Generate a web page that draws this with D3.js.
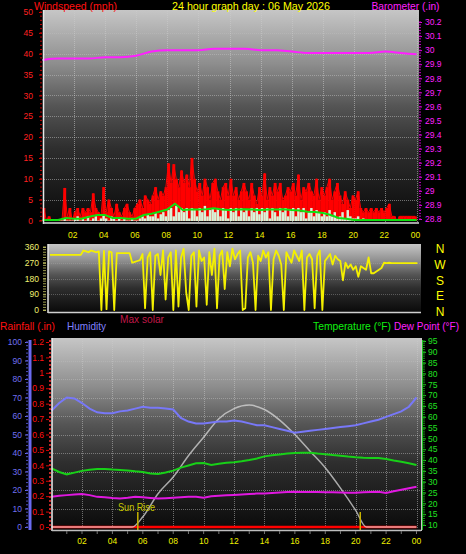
<!DOCTYPE html>
<html><head><meta charset="utf-8">
<script src="https://cdn.jsdelivr.net/npm/d3@7"></script>
<style>html,body{margin:0;padding:0;background:#000;overflow:hidden}svg{display:block}text{font-family:"Liberation Sans",Arial,sans-serif}</style>
</head><body><svg id="c" width="466" height="554"></svg>
<script>
// ---------- data ----------
const tickHours = [2,4,6,8,10,12,14,16,18,20,22,24];
const tickLabels = ["02","04","06","08","10","12","14","16","18","20","22","00"];

// wind gust, 10-minute samples (mph)
const windGust = [
 3,0,1,0,0,0, 0,0,7.8,1,3,0, 2,3,1,3,2,3, 2,6.5,3,2,1,8, 2,5,3,1,4,2, 1,3,4,2,1,3,
 4,5,3,6,5,4, 6,8,5,7,6,8, 13.7,9,13.5,10,8,12, 9,11,8,15,10,7, 9,6,10,8,5,9, 10,7,5,8,9,6,
 10,6,8,5,7,9, 7,5,9,6,4,8, 6,11.3,5,8,6,9, 7,9,5,6,8,7, 9,6,11,5,8,7, 9,7,6,10,5,8,
 6,8,10,5,7,9, 6,4,7,5,3,6, 5,7,3,2,3,2, 3,2,3,2,3,2, 3,4,1,1,0,1, 1,1,1,1,1,1];
// wind speed, 10-minute samples (mph)
const windSpeed = [
 0,0,0,0,0,0, 0,0,0.5,0,0,0, 0.5,1,0,0.5,0,1, 0,0.5,1,0,0.5,1.5, 0.5,0,1,0.5,0,0.5, 0,0.5,0,0,0.5,0,
 0,0.5,1,0.5,1.5,1, 1,2,0.5,1.5,2,1, 2.5,3,1,3.5,2,3, 2,3,0.5,3,2.5,1, 3,2,3.5,1,2.5,3, 2,3,1,3,2.5,0.5,
 3,2,3,1,3,2, 2.5,1,3,2,3,1.5, 3,2,3,0.5,3,2, 1,3,2,3,1,2.5, 3,1,3,2,3,0.5, 2,3,1,2.5,2,1,
 2,1,2.5,1,2,0.5, 1,2,0.5,2.5,1,0.5, 0.5,1,0,0.5,0,0, 0,0,0,0,0,0, 0,0,0,0,0,0, 0,0,0,0,0,0];
// average wind, half-hourly (mph)
const windAvg = [0,0,0,0.5,0.3,0.3,0.8,1.2,1.2,0.5,0.5,0.3,0.3,1.2,1.5,2,2.5,3.9,2.4,2.5,2.5,2.6,2.8,2.5,
 2.4,2.5,2.6,2.5,2.4,2.5,2.5,2.6,2.4,2.3,2,1.9,1.7,1.2,0.5,0.3,0,0,0,0,0,0,0,0,0];
// barometer, hourly (in)
const baro = [29.93,29.94,29.94,29.94,29.95,29.95,29.96,29.99,30.00,30.00,30.00,30.01,30.01,30.01,
 30.00,30.00,29.99,29.98,29.98,29.98,29.98,29.98,29.99,29.98,29.97];
// wind direction, 10-minute samples (deg)
const windDir = [
 315,315,315,315,315,315, 315,315,315,315,315,315, 315,340,335,330,340,335,
 330,335,0,338,5,335, 330,0,325,325,325,325, 325,325,270,275,280,285,
 320,10,300,330,0,310, 320,200,340,60,300,330, 0,340,20,300,350,100,
 0,310,330,20,340,280, 300,30,330,200,350,10, 310,340,120,330,250,350,
 290,320,340,0,10,300, 330,270,0,310,280,340, 300,330,0,290,340,310,
 260,0,330,300,270,340, 310,280,340,0,300,320, 290,10,310,340,0,280,
 300,320,260,310,290,280, 170,270,240,260,230,250, 190,250,240,230,300,210,
 210,220,230,240,270,268, 270,268,268,268,268,268, 268,268,268,268,268,268];
// humidity, half-hourly (%)
const humidity = [63,67,70,69.5,67,64,62,61.5,61.5,62.5,63,64,65,64.5,64.5,64,63.5,59,57,56,56,56.5,57,57,
 57.5,57,56,55,55,54,53,52,51,51.5,52,52.5,53,53.5,54,54.5,55,56,57,58,59.5,61,62.5,65,70];
// temperature, half-hourly (F)
const temperature = [36.2,34.5,33.4,34.2,35,35.5,35.9,35.9,35.6,35.4,35.2,34.8,34.5,33.8,33.6,34.3,35.1,36.5,
 37.5,38.5,38.6,37.7,38.3,38.8,39,39.4,40,40.7,41.7,42.2,42.6,43,43.3,43.4,43.4,43,42.7,42.3,42,41.6,
 41.3,41.1,41,40.9,40.5,39.8,39.2,38.5,37.7];
// dew point, half-hourly (F)
const dewPoint = [23.1,23.5,23.8,24.1,24.3,23.8,23,22.8,22.5,22.3,22.6,23,22.8,22.5,22.2,22.4,22.6,22.8,
 23,23,22.6,23.3,23.5,23.7,23.9,24.1,24.3,24.5,24.6,24.8,25,25.2,25.4,25.3,25.2,25.2,25.1,25.1,25,24.9,
 24.9,25.1,25.3,25.4,24.8,25.6,26.3,27,27.7];
// max solar (W/m2)
const solarHours = [0,5,5.3,6,7,8,9,10,11,12,13,14,15,16,17,18,19,20,20.7,21,24];
const solarValues = [0,0,0,55,180,270,385,485,585,640,659,635,578,500,410,320,210,90,0,0,0];
// rainfall (in)
const rainHours = [0,24];
const rainValues = [0,0];
const sunRise = 5.67, sunSet = 20.3;

// ---------- drawing ----------
const svg = d3.select("#c");
svg.append("rect").attr("width",466).attr("height",554).attr("fill","#000");
const defs = svg.append("defs");
const g = defs.append("linearGradient").attr("id","bg").attr("x1",0).attr("x2",0).attr("y1",0).attr("y2",1);
[[0,"#c6c6c6"],[0.25,"#8e8e8e"],[0.45,"#555"],[0.65,"#2e2e2e"],[1,"#0a0a0a"]].forEach(s=>g.append("stop").attr("offset",s[0]).attr("stop-color",s[1]));

const half = d3.range(49).map(i=>i/2);
const tenMin = d3.range(144).map(i=>i/6);

function txt(x,y,s,fill,size,anchor,len){
  const t = svg.append("text").attr("x",x).attr("y",y).text(s).attr("fill",fill)
    .attr("font-size",size).attr("text-anchor",anchor||"start");
  if(len) t.attr("textLength",len).attr("lengthAdjust","spacingAndGlyphs");
  return t;
}

// ===== TOP PANEL =====
const xW = d3.scaleLinear().domain([0,24]).range([42.5,416.5]);
const yW = d3.scaleLinear().domain([0,50]).range([220.5,12]);
const yB = d3.scaleLinear().domain([28.8,30.2]).range([219,22]);
svg.append("rect").attr("x",43).attr("y",10).attr("width",376).attr("height",213).attr("fill","url(#bg)");
// grid
svg.append("g").selectAll("line").data(d3.range(5,50,5)).join("line")
  .attr("x1",44).attr("x2",418).attr("y1",d=>Math.round(yW(d))+0.5).attr("y2",d=>Math.round(yW(d))+0.5)
  .attr("stroke","#bbb").attr("stroke-opacity",0.55).attr("stroke-dasharray","1,1");
svg.append("g").selectAll("line").data(tickHours).join("line")
  .attr("x1",d=>Math.round(xW(d))+0.5).attr("x2",d=>Math.round(xW(d))+0.5).attr("y1",11).attr("y2",222)
  .attr("stroke","#ccc").attr("stroke-opacity",0.55).attr("stroke-dasharray","1,1");
// gust bars
const bw = (xW(1)-xW(0))/6;
svg.append("g").selectAll("rect").data(windGust).join("rect")
  .attr("x",(d,i)=>xW(tenMin[i])).attr("width",bw+0.3)
  .attr("y",d=>yW(d)).attr("height",d=>yW(0)-yW(d)+0.5).attr("fill","#ff0000");
svg.append("path").datum(windGust).attr("fill","none").attr("stroke","#ff0000").attr("stroke-width",1)
  .attr("d",d3.line().x((d,i)=>xW(tenMin[i])+bw/2).y(d=>yW(d)));
// speed bars
svg.append("g").selectAll("rect").data(windSpeed).join("rect")
  .attr("x",(d,i)=>xW(tenMin[i])+bw*0.05).attr("width",bw*0.95)
  .attr("y",d=>yW(d)).attr("height",d=>yW(0)-yW(d)+0.5).attr("fill","#d8f4d8");
// average line
svg.append("path").datum(windAvg).attr("fill","none").attr("stroke","#10e010").attr("stroke-width",2)
  .attr("d",d3.line().x((d,i)=>xW(half[i])).y(d=>yW(d)-0.5));
// barometer
svg.append("path").datum(baro).attr("fill","none").attr("stroke","#ff20ff").attr("stroke-width",2)
  .attr("d",d3.line().x((d,i)=>xW(i)).y(d=>yB(d)).curve(d3.curveMonotoneX));
// borders
svg.append("line").attr("x1",43.5).attr("x2",43.5).attr("y1",10).attr("y2",224).attr("stroke","#e8e8e8").attr("stroke-width",1.5);
svg.append("line").attr("x1",43).attr("x2",419).attr("y1",223).attr("y2",223).attr("stroke","#d8d8d8").attr("stroke-width",1.5);
// left wind axis
const axW = svg.append("g").attr("transform","translate(42,0)")
  .call(d3.axisLeft(yW).tickValues(d3.range(0,51,5)).tickSize(3).tickPadding(6));
axW.select(".domain").remove();
axW.selectAll("line").attr("stroke","#e00000");
axW.selectAll("text").attr("fill","#ff2020").attr("font-size",8.5).attr("font-family","Liberation Sans, Arial");
svg.append("g").selectAll("line").data(d3.range(0,51,1)).join("line")
  .attr("x1",40).attr("x2",42).attr("y1",d=>yW(d)).attr("y2",d=>yW(d)).attr("stroke","#c00000");
// right baro axis
const axB = svg.append("g").attr("transform","translate(419,0)")
  .call(d3.axisRight(yB).tickValues(d3.range(0,15).map(i=>28.8+i*0.1)).tickFormat(d=>String(+d.toFixed(1))).tickSize(3).tickPadding(3));
axB.select(".domain").remove();
axB.selectAll("line").attr("stroke","#e000e0");
axB.selectAll("text").attr("fill","#ff20ff").attr("font-size",8.5).attr("font-family","Liberation Sans, Arial");
svg.append("g").selectAll("line").data(d3.range(0,71).map(i=>28.8+i*0.02)).join("line")
  .attr("x1",419).attr("x2",421).attr("y1",d=>yB(d)).attr("y2",d=>yB(d)).attr("stroke","#c000c0");
// x labels
svg.append("g").selectAll("text").data(tickHours).join("text")
  .attr("x",d=>xW(d)-1).attr("y",238).attr("text-anchor","middle").attr("fill","#f0f000").attr("font-size",8.5)
  .text((d,i)=>tickLabels[i]);
// titles
txt(34,10,"Windspeed (mph)","#ff1010",11.5,"start",83);
txt(172,9.5,"24 hour graph day : 06 May 2026","#ffff00",11.5,"start",158);
txt(371.5,10,"Barometer (.in)","#ff20ff",11.5,"start",68);

// ===== MIDDLE PANEL =====
const xD = d3.scaleLinear().domain([0,24]).range([50,420]);
const yD = d3.scaleLinear().domain([0,360]).range([310,247]);
svg.append("rect").attr("x",48).attr("y",244).attr("width",373).attr("height",68).attr("fill","url(#bg)");
svg.append("g").selectAll("line").data([90,180,270]).join("line")
  .attr("x1",49).attr("x2",420).attr("y1",d=>Math.round(yD(d))+0.5).attr("y2",d=>Math.round(yD(d))+0.5)
  .attr("stroke","#aaa").attr("stroke-opacity",0.4).attr("stroke-dasharray","1,1");
svg.append("path").datum(windDir).attr("fill","none").attr("stroke","#f4f000").attr("stroke-width",1.8)
  .attr("stroke-linejoin","round").attr("d",d3.line().x((d,i)=>xD(tenMin[i])).y(d=>yD(d)));
svg.append("line").attr("x1",48).attr("x2",48).attr("y1",244).attr("y2",313).attr("stroke","#e8e8e8").attr("stroke-width",1.5);
svg.append("line").attr("x1",48).attr("x2",421).attr("y1",312.5).attr("y2",312.5).attr("stroke","#cfcfcf").attr("stroke-width",1.5);
const axD = svg.append("g").attr("transform","translate(46,0)")
  .call(d3.axisLeft(yD).tickValues([0,90,180,270,360]).tickSize(3).tickPadding(4));
axD.select(".domain").remove();
axD.selectAll("line").attr("stroke","#c8c860");
axD.selectAll("text").attr("fill","#f0f070").attr("font-size",8.5).attr("font-family","Liberation Sans, Arial");
svg.append("g").selectAll("line").data(d3.range(0,361,15)).join("line")
  .attr("x1",43).attr("x2",46).attr("y1",d=>yD(d)).attr("y2",d=>yD(d)).attr("stroke","#a0a050");
const compass = ["N","W","S","E","N"];
svg.append("g").selectAll("text").data([360,270,180,90,0]).join("text")
  .attr("x",440).attr("y",d=>yD(d)+6).attr("text-anchor","middle").attr("fill","#ffff00").attr("font-size",12)
  .text((d,i)=>compass[i]);

// ===== BOTTOM PANEL =====
const xT = d3.scaleLinear().domain([0,24]).range([51.6,416.5]);
const yH = d3.scaleLinear().domain([0,100]).range([527,342]);
const yR = d3.scaleLinear().domain([0,1.2]).range([527,342]);
const yT = d3.scaleLinear().domain([10,95]).range([525,341]);
const yS = d3.scaleLinear().domain([0,800]).range([527,379]);
svg.append("rect").attr("x",52).attr("y",338).attr("width",369).attr("height",192).attr("fill","url(#bg)");
svg.append("g").selectAll("line").data(d3.range(10,100,10)).join("line")
  .attr("x1",53).attr("x2",420).attr("y1",d=>Math.round(yH(d))+0.5).attr("y2",d=>Math.round(yH(d))+0.5)
  .attr("stroke","#bbb").attr("stroke-opacity",0.5).attr("stroke-dasharray","1,1");
svg.append("g").selectAll("line").data(tickHours).join("line")
  .attr("x1",d=>Math.round(xT(d))+0.5).attr("x2",d=>Math.round(xT(d))+0.5).attr("y1",339).attr("y2",529)
  .attr("stroke","#ccc").attr("stroke-opacity",0.5).attr("stroke-dasharray","1,1");
// rain
svg.append("path").datum(rainValues).attr("fill","none").attr("stroke","#ff0000").attr("stroke-width",2.5)
  .attr("d",d3.line().x((d,i)=>xT(rainHours[i])).y(d=>yR(d)));
// solar
svg.append("path").datum(solarValues).attr("fill","none").attr("stroke","#d8d8d8").attr("stroke-width",1.5).attr("stroke-opacity",0.75)
  .attr("d",d3.line().x((d,i)=>xT(solarHours[i])).y(d=>yS(d)).curve(d3.curveMonotoneX));
// humidity, temp, dew
svg.append("path").datum(humidity).attr("fill","none").attr("stroke","#7878f8").attr("stroke-width",2)
  .attr("d",d3.line().x((d,i)=>xT(half[i])).y(d=>yH(d)));
svg.append("path").datum(temperature).attr("fill","none").attr("stroke","#18d018").attr("stroke-width",2)
  .attr("d",d3.line().x((d,i)=>xT(half[i])).y(d=>yT(d)));
svg.append("path").datum(dewPoint).attr("fill","none").attr("stroke","#e018e0").attr("stroke-width",2)
  .attr("d",d3.line().x((d,i)=>xT(half[i])).y(d=>yT(d)));
// sunrise / sunset markers
svg.append("g").selectAll("line").data([sunRise,sunSet]).join("line")
  .attr("x1",d=>xT(d)).attr("x2",d=>xT(d)).attr("y1",512).attr("y2",530).attr("stroke","#c8b400").attr("stroke-width",1.5);
txt(118,511,"Sun Rise","#c8c800",10.5,"start",37);
// borders
svg.append("line").attr("x1",52).attr("x2",52).attr("y1",338).attr("y2",531).attr("stroke","#f0f0f0").attr("stroke-width",1.5);
svg.append("line").attr("x1",52).attr("x2",421).attr("y1",530.5).attr("y2",530.5).attr("stroke","#bdbdbd").attr("stroke-width",1.5);
svg.append("line").attr("x1",421.5).attr("x2",421.5).attr("y1",338).attr("y2",531).attr("stroke","#c8c8c8").attr("stroke-width",1);
svg.append("g").selectAll("line").data(d3.range(1,25)).join("line")
  .attr("x1",d=>xT(d)).attr("x2",d=>xT(d)).attr("y1",531).attr("y2",534).attr("stroke","#777");
// humidity axis
svg.append("line").attr("x1",30).attr("x2",30).attr("y1",340).attr("y2",530).attr("stroke","#6a6af0").attr("stroke-width",3);
const axH = svg.append("g").attr("transform","translate(28,0)")
  .call(d3.axisLeft(yH).tickValues(d3.range(0,101,10)).tickSize(3).tickPadding(3));
axH.select(".domain").remove();
axH.selectAll("line").attr("stroke","#6a6af0");
axH.selectAll("text").attr("fill","#7070f0").attr("font-size",8.5).attr("font-family","Liberation Sans, Arial");
svg.append("g").selectAll("line").data(d3.range(0,101,2)).join("line")
  .attr("x1",26).attr("x2",28).attr("y1",d=>yH(d)).attr("y2",d=>yH(d)).attr("stroke","#5050c0");
// rain axis
svg.append("line").attr("x1",50).attr("x2",50).attr("y1",340).attr("y2",530).attr("stroke","#ff3030").attr("stroke-width",1.5).attr("stroke-dasharray","2,2");
const axR = svg.append("g").attr("transform","translate(49,0)")
  .call(d3.axisLeft(yR).tickValues(d3.range(0,13).map(i=>i/10)).tickFormat(d=>String(+d.toFixed(1))).tickSize(3).tickPadding(2));
axR.select(".domain").remove();
axR.selectAll("line").attr("stroke","#e00000");
axR.selectAll("text").attr("fill","#ff1010").attr("font-size",8.5).attr("font-family","Liberation Sans, Arial");
// temperature axis
svg.append("line").attr("x1",422.5).attr("x2",422.5).attr("y1",340).attr("y2",530).attr("stroke","#20c020").attr("stroke-width",1);
const axT = svg.append("g").attr("transform","translate(423,0)")
  .call(d3.axisRight(yT).tickValues(d3.range(10,96,5)).tickSize(3).tickPadding(2));
axT.select(".domain").remove();
axT.selectAll("line").attr("stroke","#20d020");
axT.selectAll("text").attr("fill","#20e020").attr("font-size",8.5).attr("font-family","Liberation Sans, Arial");
svg.append("g").selectAll("line").data(d3.range(10,96,1)).join("line")
  .attr("x1",423).attr("x2",425).attr("y1",d=>yT(d)).attr("y2",d=>yT(d)).attr("stroke","#189018");
// x labels
svg.append("g").selectAll("text").data(tickHours).join("text")
  .attr("x",d=>xT(d)).attr("y",544).attr("text-anchor","middle").attr("fill","#f0f000").attr("font-size",8.5)
  .text((d,i)=>tickLabels[i]);
// legend titles
txt(0,330,"Rainfall (.in)","#ff1010",11.5,"start",55);
txt(67,330,"Humidity","#8080ff",11.5,"start",39);
txt(120,323,"Max solar","#c01848",11.5,"start",44);
txt(313,330,"Temperature (°F)","#10f010",11,"start",78);
txt(394,330,"Dew Point (°F)","#ff20ff",11,"start",65);
</script></body></html>
